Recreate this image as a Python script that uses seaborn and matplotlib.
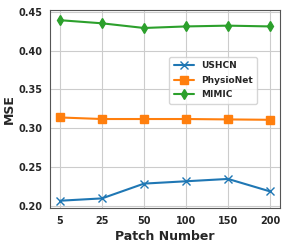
import pandas as pd
import matplotlib.pyplot as plt
import seaborn as sns

patches = ['5', '25', '50', '100', '150', '200']
ushcn = [0.207, 0.210, 0.229, 0.232, 0.235, 0.219]
physionet = [0.314, 0.312, 0.312, 0.312, 0.3115, 0.311]
mimic = [0.439, 0.435, 0.429, 0.431, 0.432, 0.431]

series = {'USHCN': ushcn, 'PhysioNet': physionet, 'MIMIC': mimic}
colors = ['#1f77b4', '#ff7f0e', '#2ca02c']
markers = ['x', 's', 'd']

sns.set_style('whitegrid')
plt.rcParams['font.family'] = ['DejaVu Sans']
plt.rcParams['font.weight'] = 'bold'

fig, ax = plt.subplots(figsize=(2.87, 2.46), dpi=100)
for (name, vals), c, m in zip(series.items(), colors, markers):
    d = pd.DataFrame({'Patch': patches, 'MSE': vals})
    sns.lineplot(data=d, x='Patch', y='MSE', color=c, marker=m, label=name,
                 linewidth=1.5, markersize=5.5, markeredgewidth=1,
                 markeredgecolor=c, ax=ax, sort=False)

ax.set_ylim(0.1975, 0.452)
ax.set_yticks([0.20, 0.25, 0.30, 0.35, 0.40, 0.45])
ax.set_yticklabels([f'{t:.2f}' for t in [0.20, 0.25, 0.30, 0.35, 0.40, 0.45]])
ax.set_xlim(-0.24, 5.24)
ax.tick_params(labelsize=7, pad=2)
for lab in ax.get_xticklabels() + ax.get_yticklabels():
    lab.set_fontweight('bold')
ax.set_xlabel('Patch Number', fontsize=9, fontweight='bold', labelpad=3)
ax.set_ylabel('MSE', fontsize=9, fontweight='bold', labelpad=2)
ax.grid(True, color='#cccccc', linewidth=0.8)
for s in ax.spines.values():
    s.set_color('#555555')
    s.set_linewidth(0.8)

leg = ax.legend(loc='center right', bbox_to_anchor=(0.92, 0.645), fontsize=6.5,
                frameon=True, handlelength=2.2, borderpad=0.5, labelspacing=0.6)
leg.get_frame().set_edgecolor('#cccccc')

plt.subplots_adjust(left=0.174, right=0.976, top=0.959, bottom=0.154)
plt.savefig('out.png', dpi=100)
